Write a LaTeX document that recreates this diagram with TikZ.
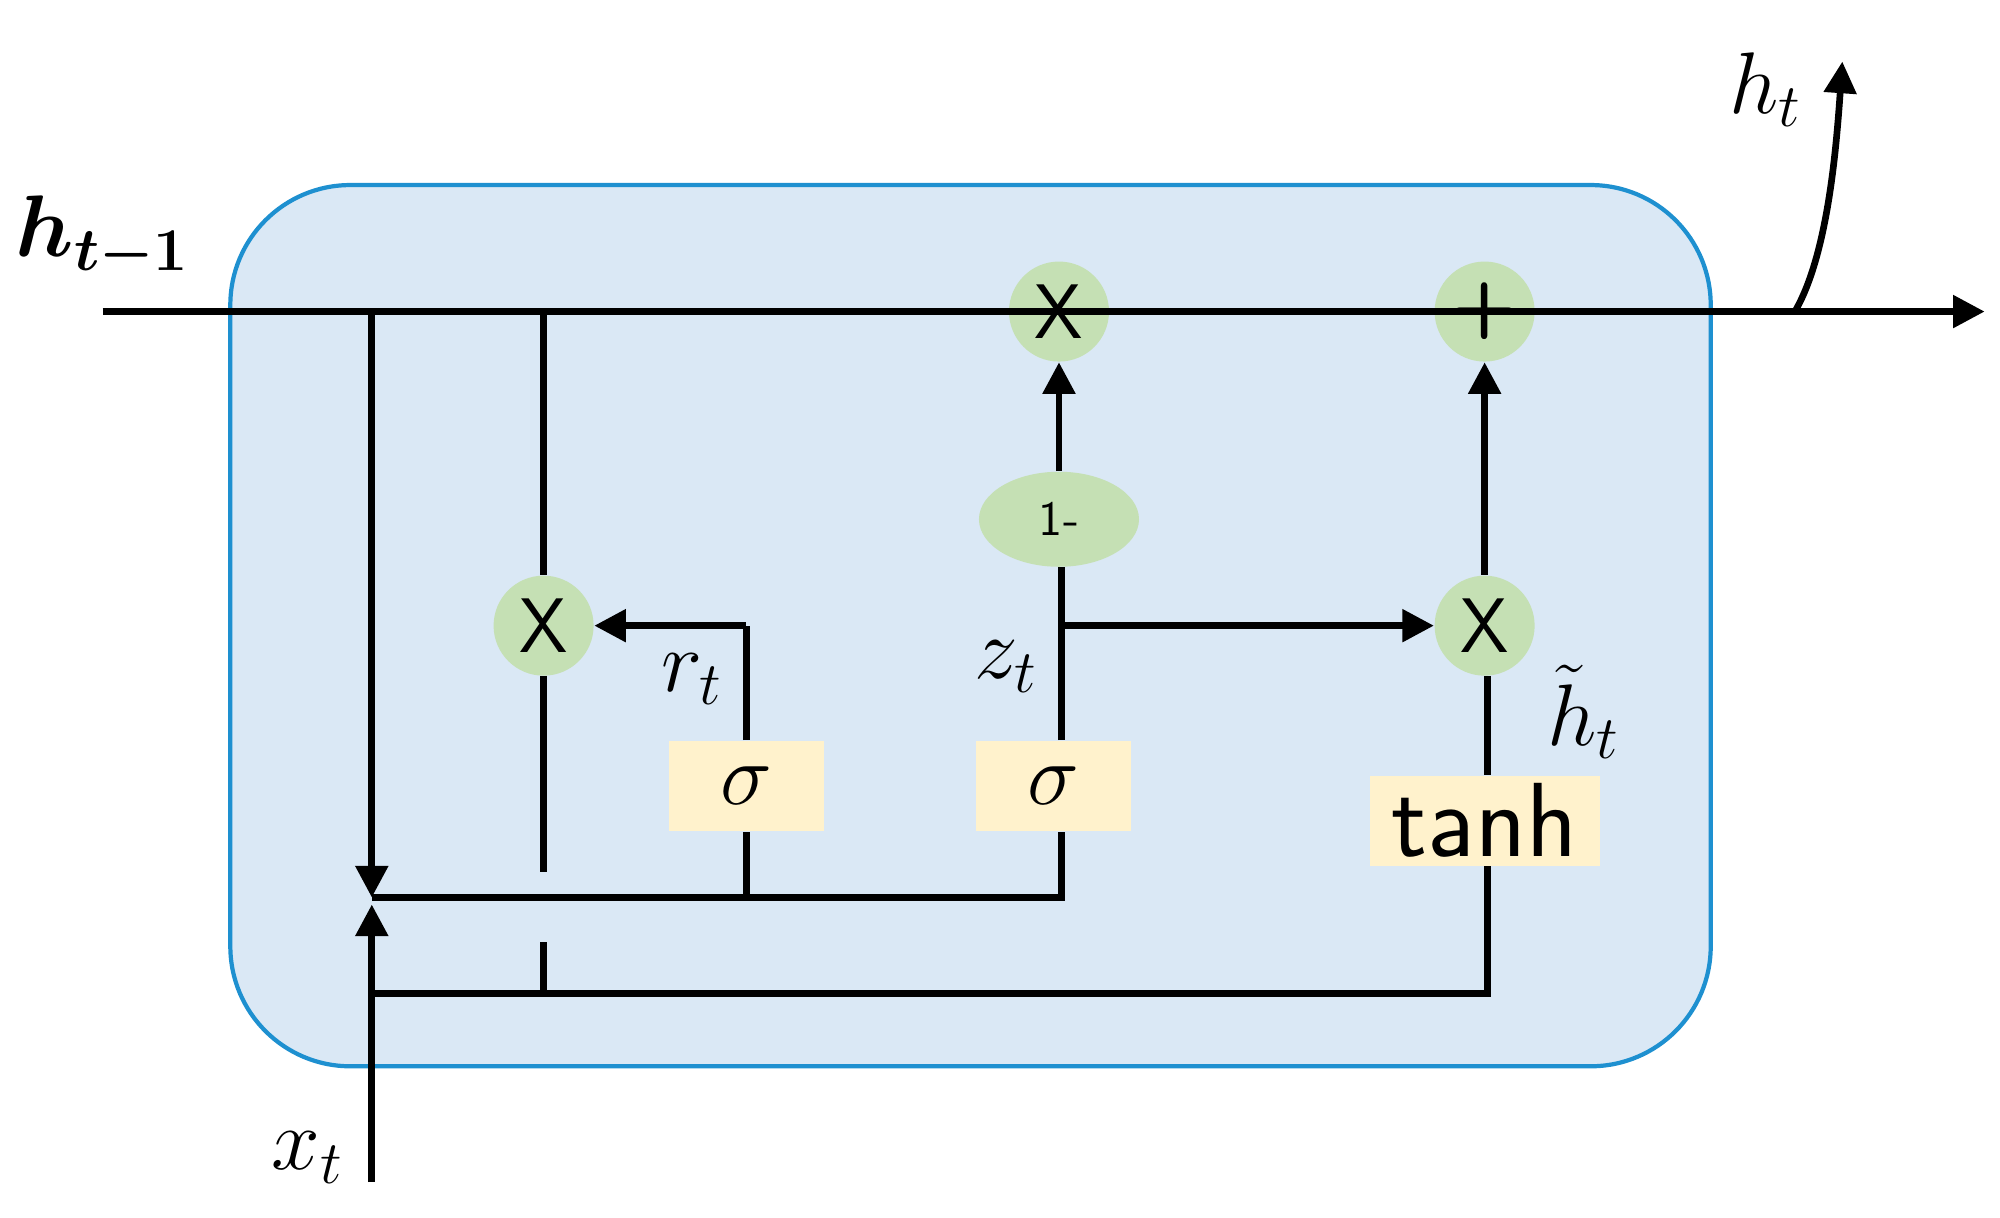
\documentclass[tikz,border=0pt]{standalone}
\usepackage{amsmath,bm}
\usetikzlibrary{arrows.meta,shapes.geometric}
\begin{document}
\begin{tikzpicture}[x=0.01282cm,y=-0.01282cm,
  ln/.style={line width=1.9pt,black},
  arr/.style={ln,-{Triangle[length=9pt,width=9pt]}},
  op/.style={circle,fill=opg,minimum size=1.0cm,inner sep=0pt,font=\sffamily\fontsize{22}{24}\selectfont},
  gate/.style={rectangle,fill=gy,minimum width=1.55cm,minimum height=0.9cm,inner sep=0pt,font=\fontsize{30}{32}\selectfont},
  lab/.style={font=\fontsize{26}{30}\selectfont}]
\definecolor{opg}{HTML}{C5E0B4}
\definecolor{gy}{HTML}{FFF2CC}
\definecolor{cellf}{HTML}{DAE8F5}
\definecolor{celld}{HTML}{1E90D0}
\useasboundingbox (0,0) rectangle (1560,950);
\node[draw=celld,fill=cellf,line width=1.2pt,rounded corners=1.2cm,minimum width=14.8cm,minimum height=8.81cm] (cell) at (757,488) {};
\node[op] (m1) at (826,243) {X};
\node[op] (pl) at (1158,243) {\textbf{+}};
\node[op] (mr) at (424,488) {X};
\node[op] (m2) at (1158,488) {X};
\node[ellipse,fill=opg,minimum width=1.6cm,minimum height=0.95cm,inner sep=0pt,font=\sffamily\fontsize{14}{16}\selectfont] (om) at (826,405) {1-};
\node[gate] (sr) at (582,613) {$\sigma$};
\node[gate] (sz) at (822,613) {$\sigma$};
\node[gate,minimum width=2.3cm,font=\sffamily\fontsize{30}{32}\selectfont] (th) at (1158,640) {tanh};
\coordinate (in) at (80,243);
\coordinate (out) at (1548,243);
\coordinate (br) at (1400,243);
\coordinate (htop) at (1437,48);
\coordinate (a) at (290,243);
\coordinate (b) at (424,243);
\coordinate (j) at (290,700);
\coordinate (jr) at (582,700);
\coordinate (jz) at (828,700);
\coordinate (xb) at (290,922);
\coordinate (k) at (290,775);
\coordinate (kb) at (424,775);
\coordinate (kt) at (1160,775);
\coordinate (rt) at (582,488);
\coordinate (zb) at (828,488);
\coordinate (g1) at (424,680);
\coordinate (g2) at (424,735);
\draw[arr] (in) -- (out);
\draw[arr] (br) .. controls (1425,200) and (1432,120) .. (htop);
\draw[arr] (a) -- (j);
\draw[arr] (xb) -- ([yshift=-2pt]j);
\draw[ln] (b) -- (mr);
\draw[ln] (mr) -- (g1);
\draw[ln] (g2) -- (kb);
\draw[ln] (j) -- (jz) -- (sz.south -| jz);
\draw[ln] (jr) -- (sr.south);
\draw[ln] (sr.north) -- (rt);
\draw[arr] (rt) -- (mr);
\draw[ln] (sz.north -| jz) -- (om.south -| jz);
\draw[arr] (om) -- (m1);
\draw[arr] (zb) -- (m2);
\draw[ln] (k) -- (kt) -- (th.south -| kt);
\draw[ln] (th.north -| kt) -- (m2.south -| kt);
\draw[arr] (m2) -- (pl);
\node[lab] (lh1) at (80,185) {$\bm{h_{t-1}}$};
\node[lab] (lh) at (1377,70) {$h_t$};
\node[lab] (lr) at (540,530) {$r_t$};
\node[lab] (lz) at (785,520) {$z_t$};
\node[lab] (lth) at (1235,555) {$\tilde{h}_t$};
\node[lab] (lx) at (240,903) {$x_t$};
\end{tikzpicture}
\end{document}
